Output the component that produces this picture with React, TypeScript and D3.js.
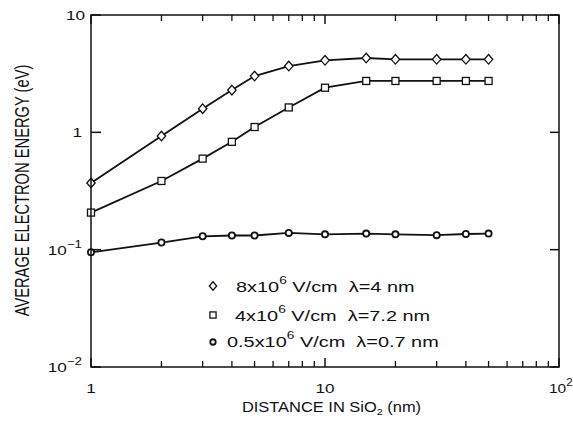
import React from 'react';
import * as d3 from 'd3';

const distances = [1, 2, 3, 4, 5, 7, 10, 15, 20, 30, 40, 50];
const energyHigh = [0.37, 0.93, 1.59, 2.29, 3.02, 3.67, 4.11, 4.3, 4.19, 4.19, 4.19, 4.19];
const energyMid = [0.207, 0.385, 0.597, 0.83, 1.11, 1.63, 2.4, 2.74, 2.74, 2.74, 2.74, 2.74];
const energyLow = [0.095, 0.115, 0.13, 0.132, 0.132, 0.139, 0.135, 0.137, 0.135, 0.133, 0.136, 0.137];

const seriesNames = ['8x10|6| V/cm  λ=4 nm', '4x10|6| V/cm  λ=7.2 nm', '0.5x10|6| V/cm  λ=0.7 nm'];
const xMajorTicks = [1, 10, 100];
const yMajorTicks = [0.01, 0.1, 1, 10];
const xTickLabels = [['1', ''], ['10', ''], ['10', '2']];
const yTickLabels = [['10', '−2'], ['10', '−1'], ['1', ''], ['10', '']];

const FONT = '"Liberation Sans", Arial, Helvetica, sans-serif';
const SX = 1.27;

function Marker({ kind, cx, cy, s = 1 }: { kind: string; cx: number; cy: number; s?: number }) {
  if (kind === 'diamond') {
    const w = 4.2 * s, h = 4.8 * s;
    return (
      <path d={`M${cx},${cy - h}L${cx + w},${cy}L${cx},${cy + h}L${cx - w},${cy}Z`} fill="#fff" stroke="#111" strokeWidth={1.3} />
    );
  }
  if (kind === 'square') {
    const a = 3.5 * s;
    return <rect x={cx - a} y={cy - a} width={2 * a} height={2 * a} fill="#fff" stroke="#111" strokeWidth={1.3} />;
  }
  return <circle cx={cx} cy={cy} r={3.1 * s} fill="#fff" stroke="#111" strokeWidth={1.8} />;
}

function SText({
  x, y, sx = SX, anchor = 'start', size, children,
}: { x: number; y: number; sx?: number; anchor?: string; size: number; children: React.ReactNode }) {
  return (
    <text
      transform={`translate(${x},${y}) scale(${sx},1)`}
      textAnchor={anchor as any}
      fontSize={size}
      fill="#111"
      style={{ whiteSpace: 'pre' }}
    >
      {children}
    </text>
  );
}

export default function App() {
  const W = 573, H = 433;
  const left = 91, right = 559, top = 15, bottom = 367;
  const x = d3.scaleLog().domain([1, 100]).range([left, right]);
  const y = d3.scaleLog().domain([0.01, 10]).range([bottom, top]);

  const series = [
    { kind: 'diamond', values: energyHigh },
    { kind: 'square', values: energyMid },
    { kind: 'circle', values: energyLow },
  ];

  const line = d3
    .line<[number, number]>()
    .x((d) => x(d[0]))
    .y((d) => y(d[1]));

  const minorX: number[] = [];
  for (let dec = 1; dec < 100; dec *= 10) {
    for (let k = 2; k <= 9; k++) minorX.push(dec * k);
  }

  const legendRows = [
    { y: 286, textX: 236, baseline: 292 },
    { y: 315, textX: 235, baseline: 321 },
    { y: 342, textX: 227, baseline: 347 },
  ];

  return (
    <svg width={W} height={H} style={{ position: 'absolute', left: 0, top: 0, background: '#fff' }} fontFamily={FONT}>
      <rect x={0} y={0} width={W} height={H} fill="#fff" />
      {series.map((s, i) => (
        <path
          key={'l' + i}
          d={line(distances.map((d, j) => [d, s.values[j]]) as [number, number][]) || ''}
          fill="none"
          stroke="#111"
          strokeWidth={1.8}
        />
      ))}
      {series.map((s, i) =>
        distances.map((d, j) => <Marker key={`m${i}-${j}`} kind={s.kind} cx={x(d)} cy={y(s.values[j])} />)
      )}
      <rect x={left} y={top} width={right - left} height={bottom - top} fill="none" stroke="#111" strokeWidth={1.5} />
      {minorX.map((v) => (
        <g key={'mx' + v}>
          <line x1={x(v)} x2={x(v)} y1={bottom} y2={bottom - 6} stroke="#111" strokeWidth={1.3} />
          <line x1={x(v)} x2={x(v)} y1={top} y2={top + 6} stroke="#111" strokeWidth={1.3} />
        </g>
      ))}
      {xMajorTicks.map((v) => (
        <g key={'Mx' + v}>
          <line x1={x(v)} x2={x(v)} y1={bottom} y2={bottom - 9} stroke="#111" strokeWidth={1.5} />
          <line x1={x(v)} x2={x(v)} y1={top} y2={top + 9} stroke="#111" strokeWidth={1.5} />
        </g>
      ))}
      {yMajorTicks.map((v) => (
        <g key={'My' + v}>
          <line x1={left} x2={left + 10} y1={y(v)} y2={y(v)} stroke="#111" strokeWidth={1.5} />
          <line x1={right} x2={right - 9} y1={y(v)} y2={y(v)} stroke="#111" strokeWidth={1.5} />
        </g>
      ))}
      {yMajorTicks.map((v, i) => (
        <SText key={'yl' + v} x={v === 10 ? 85 : 82} y={y(v) + 5} anchor="end" size={13.5}>
          {yTickLabels[i][0]}
          {yTickLabels[i][1] && (
            <tspan fontSize={10.5} dy={-7}>
              {yTickLabels[i][1]}
            </tspan>
          )}
        </SText>
      ))}
      {xMajorTicks.map((v, i) => (
        <SText
          key={'xl' + v}
          x={i === 2 ? 549 : x(v)}
          y={393}
          anchor={i === 2 ? 'start' : 'middle'}
          size={13.5}
          sx={i === 2 ? 1.15 : SX}
        >
          {xTickLabels[i][0]}
          {xTickLabels[i][1] && (
            <tspan fontSize={10} dy={-7}>
              {xTickLabels[i][1]}
            </tspan>
          )}
        </SText>
      ))}
      <SText x={331.5} y={412} anchor="middle" size={14.3} sx={1.15}>
        DISTANCE IN SiO
        <tspan fontSize={9.5} dy={3}>2</tspan>
        <tspan dy={-3}> (nm)</tspan>
      </SText>
      <text
        transform={`translate(29,190.5) rotate(-90) scale(1,1.33)`}
        textAnchor="middle"
        fontSize={14.7}
        fill="#111"
      >
        AVERAGE ELECTRON ENERGY (eV)
      </text>
      {series.map((s, i) => {
        const parts = seriesNames[i].split('|');
        const r = legendRows[i];
        return (
          <g key={'lg' + i}>
            <Marker kind={s.kind} cx={213} cy={r.y} s={0.88} />
            <SText x={r.textX} y={r.baseline} size={15.2} sx={1.31}>
              {parts[0]}
              <tspan fontSize={10.5} dy={-8}>
                {parts[1]}
              </tspan>
              <tspan dy={8}>{parts[2]}</tspan>
            </SText>
          </g>
        );
      })}
    </svg>
  );
}
